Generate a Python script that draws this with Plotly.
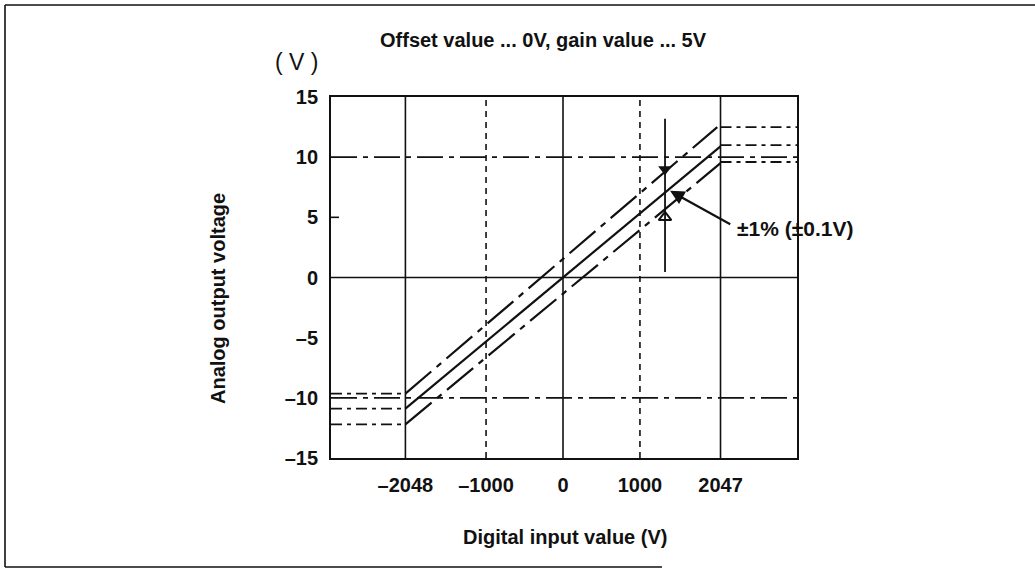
import plotly.graph_objects as go

# ---------------- data ----------------
x_range = [-3015, 3041]
y_range = [-15, 15]
x_tick_vals = [-2048, -1000, 0, 1000, 2047]
x_tick_text = ["–2048", "–1000", "0", "1000", "2047"]
y_tick_vals = [-15, -10, -5, 0, 5, 10, 15]
y_tick_text = ["–15", "–10", "–5", "0", "5", "10", "15"]

x_solid_grid = [-2048, 0, 2047]
x_dashed_grid = [-1000, 1000]
y_solid_grid = [0]
y_dashdot_grid = [-10, 10]
y_short_ticks = [5]

# three characteristic lines: diagonal part + saturated levels
upper_diag_x = [-2048, 2005]
upper_diag_y = [-9.65, 12.5]
upper_levels = [-9.65, 12.5]

middle_diag_x = [-2048, 2047]
middle_diag_y = [-10.9, 10.9]
middle_levels = [-10.9, 11.0]

lower_diag_x = [-2048, 2047]
lower_diag_y = [-12.2, 9.5]
lower_levels = [-12.2, 9.6]

saturation_x = [-2048, 2047]

# accuracy marker
marker_x = 1326
marker_y_span = [0.45, 13.2]
marker_down_y = 9.0
marker_up_y = 5.0
pointer_head = [1391, 7.2]
pointer_tail = [2193, 4.35]
pointer_text = "±1% (±0.1V)"

title_text = "Offset value ... 0V, gain value ... 5V"
x_title = "Digital input value (V)"
y_title = "Analog output voltage"
y_unit = "( V )"

# ---------------- layout helpers ----------------
W, H = 1035, 585
L, R, T, B = 331, 797, 97, 458


def px(xp):
    return (xp - L) / (R - L)


def py(yp):
    return (B - yp) / (B - T)


INK = "#111111"
FONT = "Liberation Sans, Arial, Helvetica, sans-serif"
LONG_DASHDOT = "34px,7px,6px,7px"
FLAT_DASHDOT = "11px,5px,4px,5px"
GRID_DASHDOT = "26px,6px,5px,6px"

fig = go.Figure()


def add_line(xs, ys, dash, width):
    fig.add_trace(go.Scatter(x=xs, y=ys, mode="lines",
                             line=dict(color=INK, width=width, dash=dash),
                             hoverinfo="skip"))


for diag_x, diag_y, levels, dash, w in [
    (upper_diag_x, upper_diag_y, upper_levels, LONG_DASHDOT, 2.2),
    (middle_diag_x, middle_diag_y, middle_levels, "solid", 2.2),
    (lower_diag_x, lower_diag_y, lower_levels, LONG_DASHDOT, 2.2),
]:
    add_line(diag_x, diag_y, dash, w)
    add_line([x_range[0], saturation_x[0]], [levels[0], levels[0]], FLAT_DASHDOT, 1.8)
    add_line([saturation_x[1], x_range[1]], [levels[1], levels[1]], FLAT_DASHDOT, 1.8)

# accuracy vertical and arrow heads
add_line([marker_x, marker_x], marker_y_span, "solid", 1.8)
fig.add_trace(go.Scatter(x=[marker_x], y=[marker_down_y], mode="markers",
                         marker=dict(symbol="triangle-down", size=12, color=INK),
                         hoverinfo="skip"))
fig.add_trace(go.Scatter(x=[marker_x], y=[marker_up_y], mode="markers",
                         marker=dict(symbol="triangle-up-open", size=11, color=INK,
                                     line=dict(width=2, color=INK)),
                         hoverinfo="skip"))

shapes = []
for v in x_solid_grid:
    shapes.append(dict(type="line", xref="x", yref="y", x0=v, x1=v, y0=y_range[0], y1=y_range[1],
                       line=dict(color=INK, width=1.6), layer="below"))
for v in x_dashed_grid:
    shapes.append(dict(type="line", xref="x", yref="y", x0=v, x1=v, y0=y_range[0], y1=y_range[1],
                       line=dict(color=INK, width=1.6, dash="6px,5px"), layer="below"))
for v in y_solid_grid:
    shapes.append(dict(type="line", xref="x", yref="y", x0=x_range[0], x1=x_range[1], y0=v, y1=v,
                       line=dict(color=INK, width=1.6), layer="below"))
for v in y_dashdot_grid:
    shapes.append(dict(type="line", xref="x", yref="y", x0=x_range[0], x1=x_range[1], y0=v, y1=v,
                       line=dict(color=INK, width=1.8, dash=GRID_DASHDOT), layer="below"))
for v in y_short_ticks:
    shapes.append(dict(type="line", xref="paper", yref="y", x0=0, x1=px(L + 8), y0=v, y1=v,
                       line=dict(color=INK, width=1.6)))
# outer frame (open on the right, as in the scan)
frame = dict(xref="paper", yref="paper", type="line", line=dict(color=INK, width=1.6))
shapes.append(dict(frame, x0=px(5), x1=px(1035), y0=py(5), y1=py(5)))
shapes.append(dict(frame, x0=px(5), x1=px(5), y0=py(5), y1=py(567)))
shapes.append(dict(frame, x0=px(5), x1=px(662), y0=py(567), y1=py(567)))

bold = dict(family=FONT, size=20, color=INK, weight="bold")

annotations = [
    dict(text=title_text, x=px(543), y=py(40), xref="paper", yref="paper",
         showarrow=False, font=bold, xanchor="center", yanchor="middle"),
    dict(text=y_unit, x=px(296), y=py(62), xref="paper", yref="paper",
         showarrow=False, font=dict(family=FONT, size=23, color=INK, weight="normal"),
         xanchor="center", yanchor="middle"),
    dict(text=y_title, x=px(218), y=py(299), xref="paper", yref="paper", textangle=-90,
         showarrow=False, font=bold, xanchor="center", yanchor="middle"),
    dict(text=x_title, x=px(565), y=py(537), xref="paper", yref="paper",
         showarrow=False, font=bold, xanchor="center", yanchor="middle"),
    dict(text="", x=pointer_head[0], y=pointer_head[1], xref="x", yref="y",
         ax=pointer_tail[0], ay=pointer_tail[1], axref="x", ayref="y",
         showarrow=True, arrowhead=2, arrowsize=1.3, arrowwidth=2.2, arrowcolor=INK),
    dict(text=pointer_text, x=pointer_tail[0], y=pointer_tail[1] - 0.3, xref="x", yref="y",
         xshift=3, showarrow=False, font=dict(bold, size=21), xanchor="left", yanchor="middle"),
]

axis_common = dict(showgrid=False, zeroline=False, showline=True, mirror=True,
                   linecolor=INK, linewidth=1.8, ticks="", tickfont=bold)

fig.update_layout(
    width=W, height=H, autosize=False,
    margin=dict(l=L, r=W - R, t=T, b=H - B, pad=0),
    plot_bgcolor="white", paper_bgcolor="white",
    showlegend=False,
    xaxis=dict(range=x_range, tickvals=x_tick_vals, ticktext=x_tick_text,
               ticklabelstandoff=8, **axis_common),
    yaxis=dict(range=y_range, tickvals=y_tick_vals, ticktext=y_tick_text,
               ticklabelstandoff=7, **axis_common),
    shapes=shapes,
    annotations=annotations,
)

fig.write_html("out.html", config={"displayModeBar": False},
               post_script="document.body.style.margin='0';")
